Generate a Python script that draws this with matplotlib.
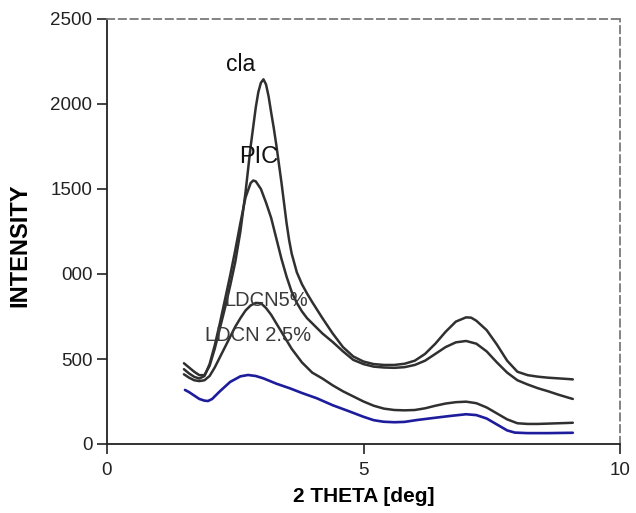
import matplotlib
matplotlib.use("Agg")
import matplotlib.pyplot as plt

plt.rcParams['font.family'] = ['Liberation Sans', 'DejaVu Sans']

# XRD patterns: 2-theta (deg) vs intensity
cla_x = [1.5, 1.6, 1.7, 1.8, 1.9, 2.0, 2.1, 2.2, 2.3, 2.4, 2.5, 2.6, 2.7, 2.8, 2.9, 2.95,
         3.0, 3.05, 3.1, 3.15, 3.2, 3.25, 3.3, 3.35, 3.4, 3.45, 3.5, 3.55, 3.6, 3.7, 3.8, 3.9,
         4.0, 4.2, 4.4, 4.6, 4.8, 5.0, 5.2, 5.4, 5.6, 5.8, 6.0, 6.2, 6.4, 6.6, 6.8, 7.0,
         7.1, 7.2, 7.4, 7.6, 7.8, 8.0, 8.2, 8.4, 8.6, 8.8, 9.0, 9.08]
cla_y = [475, 450, 425, 405, 405, 460, 560, 680, 800, 930, 1070, 1250, 1480, 1750, 1980, 2070,
         2125, 2145, 2115, 2045, 1950, 1860, 1760, 1650, 1540, 1420, 1300, 1200, 1120, 1010, 940, 885,
         835, 740, 650, 570, 515, 485, 470, 465, 465, 472, 490, 530, 590, 660, 720, 745,
         743, 725, 670, 585, 490, 425, 405, 396, 390, 386, 382, 380]

pic_x = [1.5, 1.6, 1.7, 1.8, 1.9, 2.0, 2.1, 2.2, 2.3, 2.4, 2.5, 2.6, 2.7, 2.8, 2.85, 2.9,
         3.0, 3.1, 3.2, 3.3, 3.4, 3.5, 3.6, 3.7, 3.8, 3.9, 4.0, 4.2, 4.4, 4.6, 4.8, 5.0,
         5.2, 5.4, 5.6, 5.8, 6.0, 6.2, 6.4, 6.6, 6.8, 7.0, 7.2, 7.4, 7.6, 7.8, 8.0, 8.2,
         8.4, 8.6, 8.8, 9.0, 9.08]
pic_y = [440, 415, 395, 385, 400, 470, 580, 710, 850, 990, 1140, 1300, 1450, 1535, 1550, 1545,
         1500, 1420, 1330, 1210, 1090, 985, 895, 830, 780, 740, 710, 650, 600, 545, 495, 470,
         455, 450, 448, 452, 465, 490, 530, 570, 598, 606, 590, 545, 480, 420, 375, 350,
         328, 310, 290, 272, 265]

ldcn5_x = [1.5, 1.6, 1.7, 1.8, 1.9, 2.0, 2.1, 2.2, 2.3, 2.4, 2.5, 2.6, 2.7, 2.8, 2.9, 3.0,
           3.1, 3.2, 3.4, 3.6, 3.8, 4.0, 4.2, 4.4, 4.6, 4.8, 5.0, 5.2, 5.4, 5.6, 5.8, 6.0,
           6.2, 6.4, 6.6, 6.8, 7.0, 7.2, 7.4, 7.6, 7.8, 8.0, 8.2, 8.4, 8.6, 8.8, 9.0, 9.08]
ldcn5_y = [410, 390, 375, 370, 375, 400, 450, 510, 570, 630, 690, 740, 785, 815, 830, 828,
           800, 760, 660, 560, 480, 420, 385, 345, 310, 280, 250, 225, 208, 200, 198, 200,
           210, 225, 238, 246, 249, 240, 215, 180, 145, 122, 118, 118, 120, 122, 124, 125]

ldcn25_x = [1.52, 1.6, 1.7, 1.8, 1.9, 1.97, 2.05, 2.2, 2.4, 2.6, 2.75, 2.9, 3.05, 3.3, 3.57,
            3.8, 4.09, 4.4, 4.74, 5.0, 5.2, 5.39, 5.6, 5.8, 6.04, 6.36, 6.69, 7.0, 7.2, 7.4,
            7.6, 7.8, 7.95, 8.2, 8.6, 9.08]
ldcn25_y = [318, 305, 285, 265, 255, 253, 265, 310, 365, 398, 406, 400, 386, 355, 327,
            300, 269, 228, 190, 160, 140, 131, 128, 130, 141, 153, 165, 175, 170, 150,
            115, 80, 67, 64, 64, 66]

x_ticks = [0, 5, 10]
x_ticklabels = ["0", "5", "10"]
y_ticks = [0, 500, 1000, 1500, 2000, 2500]
y_ticklabels = ["0", "500", "000", "1500", "2000", "2500"]

fig = plt.figure(figsize=(6.36, 5.13), dpi=100)
ax = fig.add_axes([107 / 636, 69 / 513, 513 / 636, 425 / 513])

dark = "#303030"
for xs, ys in ((cla_x, cla_y), (pic_x, pic_y), (ldcn5_x, ldcn5_y)):
    ax.plot(xs, ys, color=dark, lw=1.8, solid_capstyle='round', solid_joinstyle='round')
ax.plot(ldcn25_x, ldcn25_y, color="#1c1c9c", lw=1.9, solid_capstyle='round',
        solid_joinstyle='round')

ax.text(2.6, 2230, "cla", fontsize=16.5, ha='center', va='center', color="#111111")
ax.text(2.95, 1690, "PIC", fontsize=17, ha='center', va='center', color="#111111")
ax.text(3.1, 847, "LDCN5%", fontsize=14.5, ha='center', va='center', color="#3a3a3a")
ax.text(1.91, 641, "LDCN 2.5%", fontsize=14.5, ha='left', va='center', color="#3a3a3a")

ax.set_xlim(0, 10)
ax.set_ylim(0, 2500)
ax.set_xticks(x_ticks)
ax.set_xticklabels(x_ticklabels)
ax.set_yticks(y_ticks)
ax.set_yticklabels(y_ticklabels)
ax.tick_params(axis='both', direction='out', length=7, width=1.2, labelsize=13.5,
               colors="#222222")
ax.tick_params(axis='x', pad=6)

for side in ("left", "bottom"):
    ax.spines[side].set_color("#222222")
    ax.spines[side].set_linewidth(1.3)
for side in ("top", "right"):
    ax.spines[side].set_color("#7a7a7a")
    ax.spines[side].set_linewidth(1.3)
    ax.spines[side].set_linestyle((0, (4, 2.5)))

ax.set_xlabel("2 THETA [deg]", fontsize=15, fontweight='bold', labelpad=6)
ax.set_ylabel("INTENSITY", fontsize=17, fontweight='bold')
ax.yaxis.set_label_coords(-0.148, 0.468)

fig.savefig("out.png", dpi=100)
